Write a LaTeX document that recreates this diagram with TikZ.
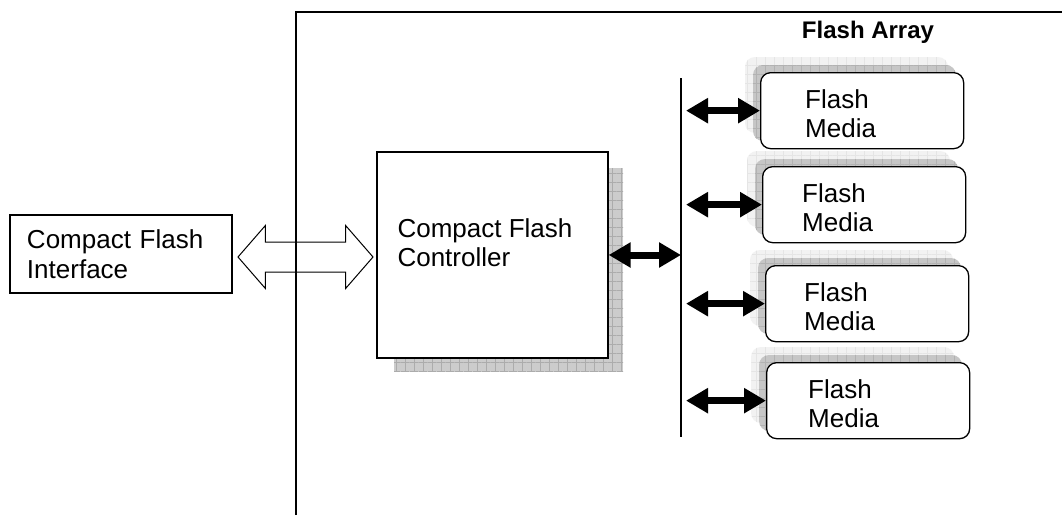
\documentclass[tikz,border=0pt]{standalone}
\usepackage{fontspec}
\setmainfont{Liberation Sans}
\usetikzlibrary{positioning,arrows.meta,shapes.arrows,patterns.meta}
\tikzset{
	txt/.style={font=\fontsize{26}{29.5}\selectfont, align=left, inner sep=0pt},
	blockbox/.style={draw, line width=1.3pt, fill=white, inner sep=0pt},
	gridshade/.style 2 args={fill=#1,
		postaction={pattern={Lines[angle=0,distance=9pt,line width=0.4pt]}, pattern color=#2},
		postaction={pattern={Lines[angle=90,distance=9pt,line width=0.4pt]}, pattern color=#2}},
	duplex/.style={{Triangle[length=22pt,width=24pt]}-{Triangle[length=22pt,width=24pt]}, line width=7pt},
}
\begin{document}
\begin{tikzpicture}[x=1pt,y=-1pt]
	\useasboundingbox (0,0) rectangle (1062,515);
	\fill[white] (0,0) rectangle (1062,515);
	\node[blockbox, txt, minimum width=222, minimum height=78, text width=188, inner xsep=17pt] (iface) at (121,254) {Compact Flash\\Interface};
	\fill[gridshade={gray!40}{gray!65}] (394,168) rectangle (623,371);
	\node[blockbox, minimum width=231, minimum height=206] (ctrl) at (492.5,255) {};
	\node[txt, anchor=west] (ctrltxt) at ([xshift=21pt,yshift=12.5pt]ctrl.west) {Compact Flash\\Controller};
	\node[draw, line width=1pt, fill=white, double arrow, double arrow tip angle=98, double arrow head extend=16.5pt, minimum height=135, inner xsep=0pt, inner ysep=14.5pt] (link) at (305.5,257) {};
	\draw[line width=1.8pt] (296,515) -- (296,12) -- (1062,12);
	\node[font=\bfseries\fontsize{24}{28}\selectfont] (title) at (868,32) {Flash Array};
	\coordinate (bus) at (681,78);
	\draw[line width=1.8pt] (bus) -- (681,437);
	\draw[duplex] (ctrl.east) -- (ctrl.east -| bus);
	\foreach \x/\y/\t [count=\i] in {760/72/45, 762/166/40, 765/265/39, 766/362/42} {
		\fill[gridshade={gray!10}{gray!20}, rounded corners=10pt] (\x-15,\y-15) rectangle ++(203,76);
		\fill[gridshade={gray!45}{gray!60}, rounded corners=10pt] (\x-7,\y-7) rectangle ++(203,76);
		\node[blockbox, rounded corners=10pt, minimum width=203, minimum height=76, anchor=north west] (m\i) at (\x,\y) {};
		\node[txt, anchor=west] (t\i) at ([xshift=\t pt,yshift=-3pt]m\i.west) {Flash\\Media};
		\draw[duplex, shorten <=5pt] (bus |- m\i.west) -- (m\i.west);
	}
\end{tikzpicture}
\end{document}
